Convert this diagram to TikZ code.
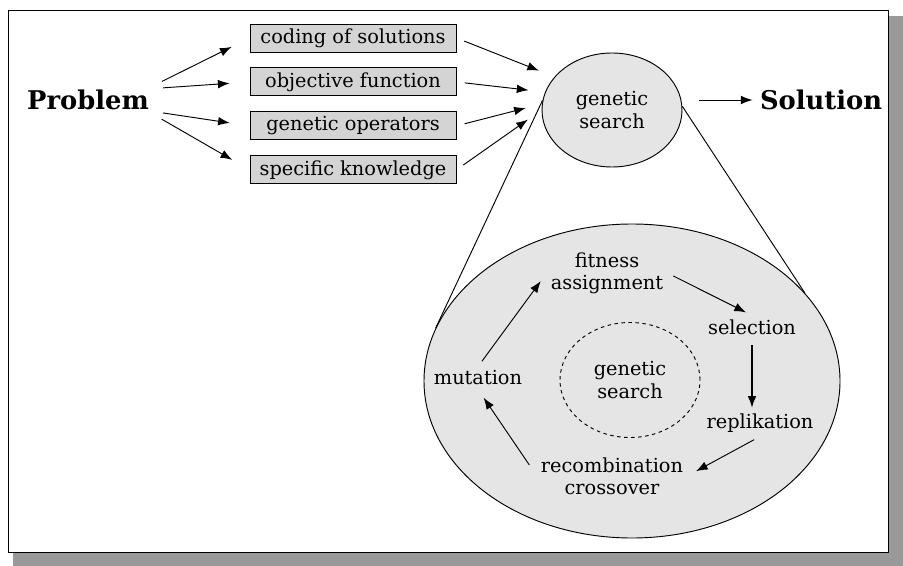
\documentclass[tikz,border=0pt]{standalone}
\usepackage{fontspec}
\setmainfont{DejaVu Serif}
\usetikzlibrary{arrows.meta,positioning,shapes.geometric}

\begin{document}
\begin{tikzpicture}[x=0.03cm,y=-0.03cm,node distance=0.45cm,
    every node/.style={font=\fontsize{16.5}{19}\selectfont,align=center},
    box/.style={draw,fill=black!17,minimum width=6.18cm,minimum height=0.84cm,inner sep=0pt,line width=0.8pt},
    blob/.style={ellipse,draw,fill=black!10,line width=0.8pt,inner sep=0pt},
    big/.style={font=\fontsize{22}{24}\selectfont\bfseries},
    arr/.style={-{Latex[length=3.5mm,width=2.6mm]},line width=0.8pt}]
    \useasboundingbox (0,0) rectangle (903,566);
    % frame and its shadow
    \fill[black!40] (13,16) rectangle (903,566);
    \draw[fill=white,line width=0.8pt] (8,10) rectangle (888,552);

    \node[big] (prob) at (88,100) {Problem};
    \node[box] (b1) at (353,38) {coding of solutions};
    \node[box,below=of b1] (b2) {objective function};
    \node[box,below=of b2] (b3) {genetic operators};
    \node[box,below=of b3] (b4) {specific knowledge};
    \node[blob,minimum width=4.2cm,minimum height=3.42cm] (sg) at (612,110) {genetic\\search};
    \node[big] (sol) at (821,100) {Solution};

    \foreach \b/\a in {b1/north east,b2/10,b3/-10,b4/south east}
        \draw[arr,shorten <=0.3cm,shorten >=0.6cm] (prob.\a) -- (\b.west);
    \draw[arr,shorten <=0.25cm,shorten >=0.5cm] (b1.east) -- (sg.150);
    \draw[arr,shorten <=0.25cm,shorten >=0.5cm] (b2.east) -- (sg.165);
    \draw[arr,shorten <=0.25cm,shorten >=0.5cm] (b3.east) -- (sg.175);
    \draw[arr,shorten <=0.25cm,shorten >=0.5cm] (b4.east) -- (sg.180);
    \draw[arr,shorten <=0.5cm,shorten >=0.1cm] (sg.east |- sol.west) -- (sol.west);

    % zoomed view of the search
    \node[blob,minimum width=12.48cm,minimum height=9.42cm] (gs) at (632,381) {};
    \draw[line width=0.8pt] (sg.172) -- (gs.165);
    \draw[line width=0.8pt] (sg.3) -- (gs.27);
    \node[blob,dashed,fill=none,minimum width=4.2cm,minimum height=3.45cm] (core) at (630,380) {genetic\\search};

    \node (fit) at (607,273) {fitness\\assignment};
    \node (sel) at (752,327) {selection};
    \node (rep) at (760,423) {replikation};
    \node (rec) at (612,476) {recombination\\crossover};
    \node (mut) at (478,378) {mutation};

    \draw[arr,shorten <=0.2cm,shorten >=0.2cm] (fit.east) -- (sel.north);
    \draw[arr,line width=1.4pt,shorten <=0.2cm,shorten >=0.05cm] (sel.south) -- (sel.south |- rep.north);
    \draw[arr,shorten <=0.2cm,shorten >=0.3cm] (rep.south) -- (rec.east);
    \draw[arr,shorten <=0.4cm,shorten >=0.3cm] (rec.west) -- (mut.south);
    \draw[arr,shorten <=0.2cm,shorten >=0.3cm] (mut.north) -- (fit.west);
\end{tikzpicture}
\end{document}
